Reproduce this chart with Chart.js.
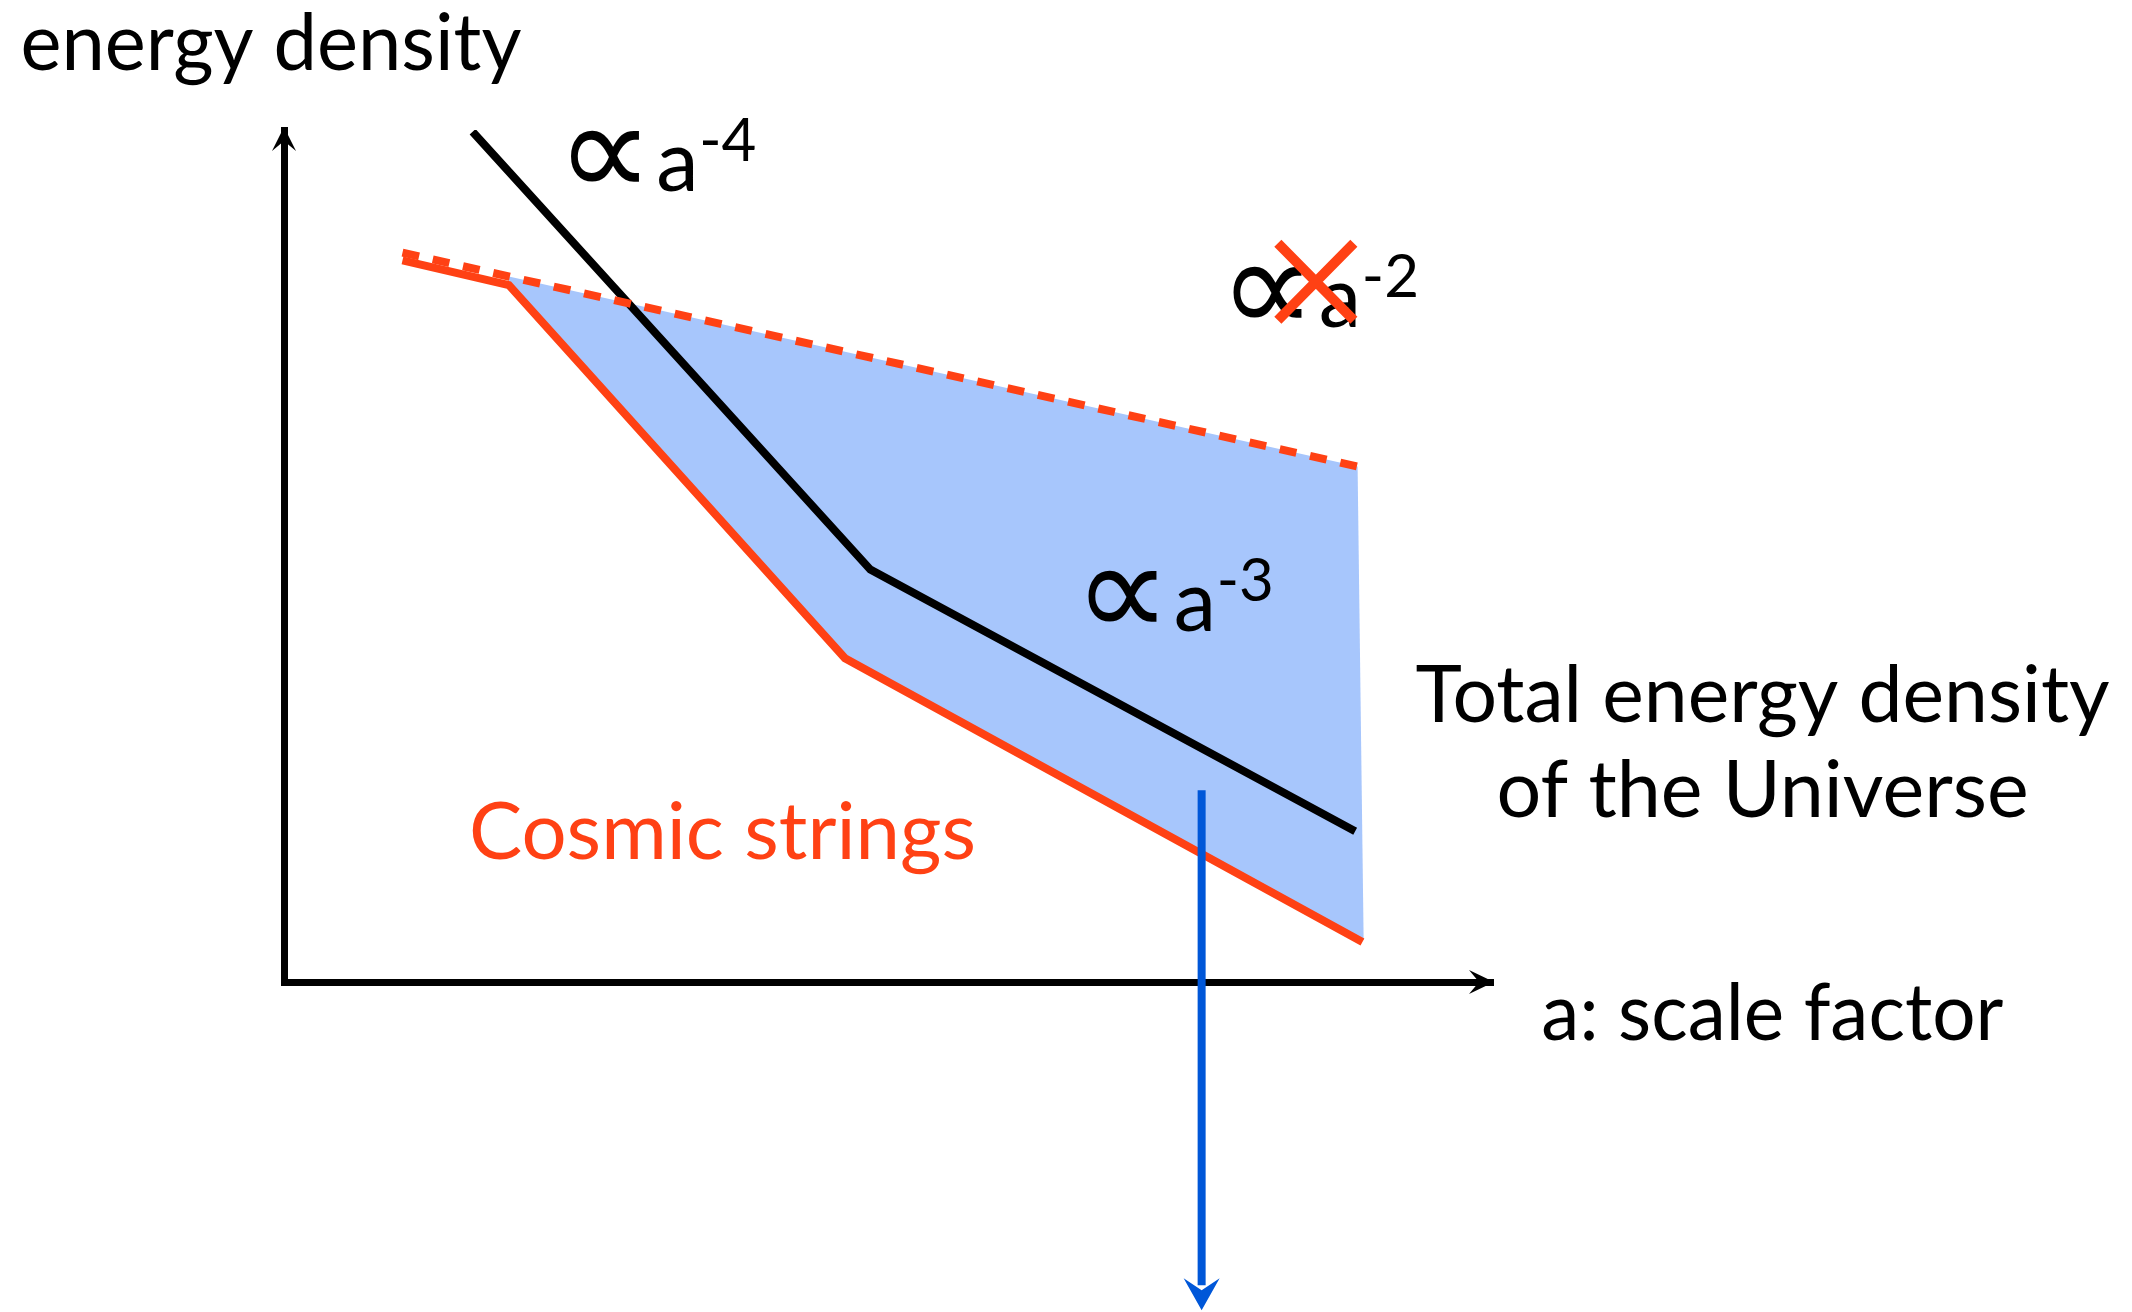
<!DOCTYPE html>
<html>
<head>
<meta charset="UTF-8">
<title>Energy density vs scale factor</title>
<script src="https://cdn.jsdelivr.net/npm/chart.js"></script>
<style>
  html, body { margin: 0; padding: 0; background: #fff; }
  #wrap { width: 2132px; height: 1312px; position: relative; }
</style>
</head>
<body>
<div id="wrap"><canvas id="chart"></canvas></div>

<script>
    // arbitrary units: a (scale factor) 0..100 along x, energy density 0..100 along y
    var totalA = [15.6, 48.5, 88.6];          // total energy density of the Universe
    var totalRho = [99.8, 48.4, 17.7];

    var stringsA = [9.8, 18.6, 46.4, 89.2];   // cosmic strings
    var stringsRho = [84.7, 81.8, 38.0, 4.7];

    var a2A = [9.8, 88.8];                    // the a^-2 line that is crossed out (dashed)
    var a2Rho = [85.6, 60.5];

    var bandA = [18.6, 88.8, 89.3, 46.4, 18.6];   // shaded band
    var bandRho = [82.8, 60.5, 4.9, 38.0, 81.8];

    var arrowA = [75.9, 75.9];                // blue arrow pointing down
    var arrowRho = [22.5, -35.6];

    var RED = '#ff4114';
    var BLUE = '#0057d8';

    function pts(xs, ys) {
        return xs.map(function (x, i) { return {x: x, y: ys[i]}; });
    }

    // notched arrow head, tip at (tx, ty), pointing along (dx, dy)
    function head(ctx, tx, ty, dx, dy, len, half, notch, color) {
        var bx = tx - dx * len, by = ty - dy * len;
        var nx = tx - dx * notch, ny = ty - dy * notch;
        ctx.save();
        ctx.fillStyle = color;
        ctx.beginPath();
        ctx.moveTo(tx, ty);
        ctx.lineTo(bx - dy * half, by + dx * half);
        ctx.lineTo(nx, ny);
        ctx.lineTo(bx + dy * half, by - dx * half);
        ctx.closePath();
        ctx.fill();
        ctx.restore();
    }

    var notes = {
        id: 'notes',
        afterDraw: function (chart) {
            var ctx = chart.ctx, xs = chart.scales.x, ys = chart.scales.y;
            function X(v) { return xs.getPixelForValue(v); }
            function Y(v) { return ys.getPixelForValue(v); }

            // axis arrow heads
            head(ctx, X(0), Y(100) - 3, 0, -1, 24, 12, 14, '#000');
            head(ctx, X(100) + 1, Y(0), 1, 0, 25, 12, 15, '#000');
            // blue arrow head at the end of the arrow line
            head(ctx, X(arrowA[1]), Y(arrowRho[1]) + 25, 0, 1, 32, 18, 20, BLUE);

            ctx.save();
            ctx.textAlign = 'left';
            ctx.textBaseline = 'alphabetic';
            ctx.fillStyle = '#000';
            ctx.font = '80px Lato';
            ctx.fillText('energy density', X(-21.8), Y(107.0), 501);
            ctx.fillText('a: scale factor', X(104.0), Y(-6.8), 462);
            ctx.textAlign = 'center';
            ctx.fillText('Total energy density', X(122.3), Y(30.5), 694);
            ctx.fillText('of the Universe', X(122.3), Y(19.4), 532);
            ctx.textAlign = 'left';
            ctx.fillStyle = RED;
            ctx.fillText('Cosmic strings', X(15.3), Y(14.4), 507);

            function prop(xv, yv, exp) {
                var x = X(xv), y = Y(yv);
                ctx.fillStyle = '#000';
                ctx.font = '136px "DejaVu Sans"';
                ctx.fillText('\u221d', x - 13, y + 20);
                ctx.font = '85px Lato';
                ctx.fillText('a', x + 87, y + 14);
                ctx.font = '60px Lato';
                ctx.fillText('-' + exp, x + 130, y - 16);
                return [x, y];
            }
            prop(23.6, 94.5, 4);
            prop(66.4, 42.8, 3);
            var p = prop(78.4, 78.5, 2);

            // red cross over the a^-2 label
            ctx.strokeStyle = RED;
            ctx.lineWidth = 10;
            ctx.beginPath();
            ctx.moveTo(p[0] + 46, p[1] - 70);
            ctx.lineTo(p[0] + 122, p[1] + 7);
            ctx.moveTo(p[0] + 122, p[1] - 70);
            ctx.lineTo(p[0] + 46, p[1] + 7);
            ctx.stroke();
            ctx.restore();
        }
    };

    var ctx = document.getElementById('chart').getContext('2d');
    var chart = new Chart(ctx, {
        type: 'scatter',
        data: {
            datasets: [
                {
                    label: 'arrow', data: pts(arrowA, arrowRho), showLine: true,
                    borderColor: BLUE, borderWidth: 8, pointRadius: 0, clip: false, order: 0
                },
                {
                    label: 'a^-2', data: pts(a2A, a2Rho), showLine: true,
                    borderColor: RED, borderWidth: 8, borderDash: [17, 14], borderCapStyle: 'butt',
                    pointRadius: 0, order: 1
                },
                {
                    label: 'Cosmic strings', data: pts(stringsA, stringsRho), showLine: true,
                    borderColor: RED, borderWidth: 8, borderJoinStyle: 'miter', pointRadius: 0, order: 2
                },
                {
                    label: 'Total energy density', data: pts(totalA, totalRho), showLine: true,
                    borderColor: '#000', borderWidth: 8, borderJoinStyle: 'miter', pointRadius: 0, order: 3
                },
                {
                    label: 'band', data: pts(bandA, bandRho), showLine: true,
                    borderWidth: 0, borderColor: 'rgba(0,0,0,0)', backgroundColor: '#a7c6fc',
                    fill: 'shape', pointRadius: 0, order: 4
                }
            ]
        },
        options: {
            responsive: true,
            maintainAspectRatio: false,
            animation: false,
            layout: { padding: { left: 284, top: 130, right: 639, bottom: 330 } },
            plugins: { legend: { display: false }, tooltip: { enabled: false } },
            scales: {
                x: {
                    type: 'linear', min: 0, max: 100,
                    grid: { display: false, drawTicks: false },
                    ticks: { display: false },
                    border: { display: true, color: '#000', width: 7 }
                },
                y: {
                    type: 'linear', min: 0, max: 100,
                    grid: { display: false, drawTicks: false },
                    ticks: { display: false },
                    border: { display: true, color: '#000', width: 7 }
                }
            }
        },
        plugins: [notes]
    });
</script>
</body>
</html>
